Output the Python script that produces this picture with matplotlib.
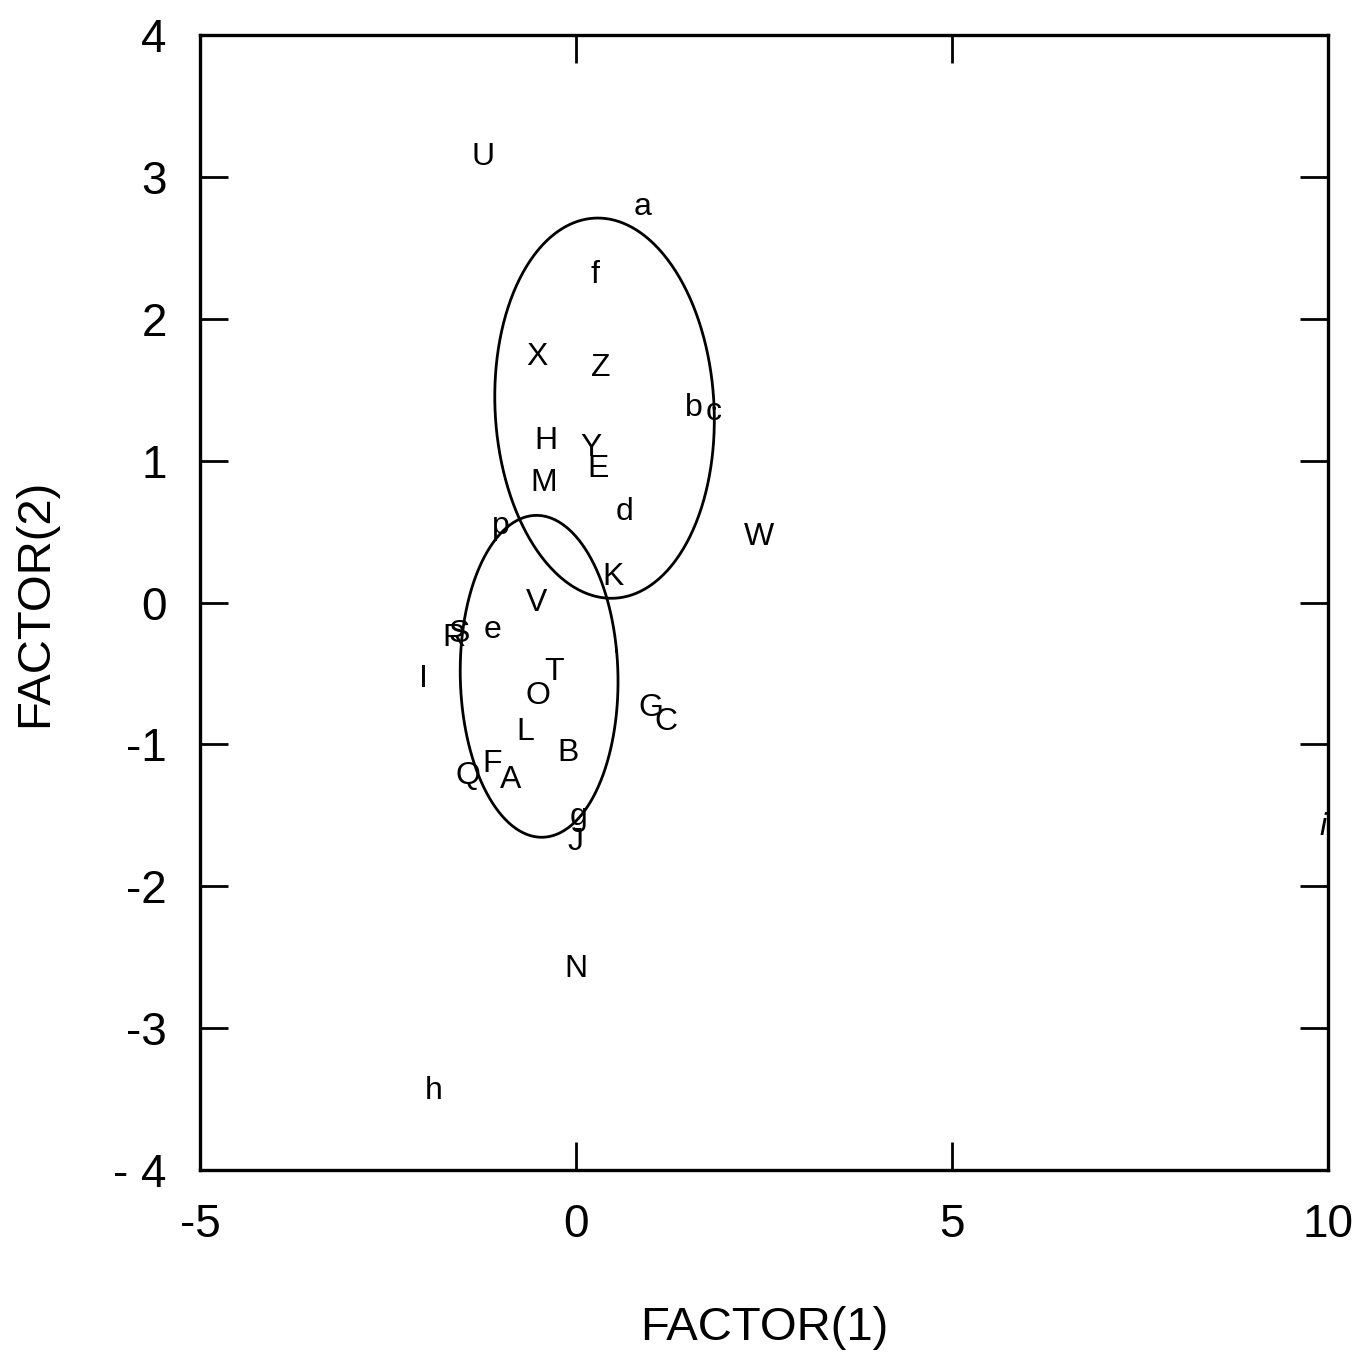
import matplotlib
matplotlib.use('Agg')
import matplotlib.pyplot as plt
import numpy as np

# case labels and factor scores
labels = ['U', 'a', 'f', 'X', 'Z', 'b', 'c', 'H', 'Y', 'E', 'M', 'd', 'W', 'p',
          'K', 'V', 'e', 'R', 'S', 'I', 'T', 'O', 'G', 'C', 'L', 'B', 'Q', 'F',
          'A', 'g', 'J', 'N', 'h', 'i']
f1 = [-1.23, 0.89, 0.25, -0.52, 0.33, 1.57, 1.83, -0.40, 0.20, 0.29, -0.43, 0.64,
      2.43, -1.00, 0.49, -0.53, -1.11, -1.62, -1.55, -2.03, -0.29, -0.51, 1.00,
      1.20, -0.68, -0.11, -1.43, -1.11, -0.87, 0.03, 0.00, 0.00, -1.89, 9.93]
f2 = [3.14, 2.79, 2.31, 1.73, 1.65, 1.37, 1.34, 1.14, 1.09, 0.94, 0.84, 0.64,
      0.46, 0.54, 0.18, 0.00, -0.19, -0.25, -0.22, -0.54, -0.49, -0.66, -0.74,
      -0.84, -0.91, -1.06, -1.22, -1.14, -1.25, -1.51, -1.69, -2.58, -3.44, -1.58]

# ellipses: centre x, centre y, x half-width, x shear, y tilt, y half-height
ell_big = (0.38, 1.37, 1.457, -0.09, 0.0, 1.34)
ell_small = (-0.49, -0.52, 1.03, -0.20, 0.18, 1.12)

xticks = [-5, 0, 5, 10]
yticks = [-4, -3, -2, -1, 0, 1, 2, 3, 4]
ytick_labels = ['- 4', '-3', '-2', '-1', '0', '1', '2', '3', '4']

plt.rcParams['font.family'] = ['Liberation Sans', 'DejaVu Sans']
plt.rcParams['axes.unicode_minus'] = False

fig = plt.figure(figsize=(13.64, 13.58), dpi=100)
ax = fig.add_axes([0.1466, 0.1384, 0.827, 0.8358])

t = np.linspace(0, 2 * np.pi, 400)
for cx, cy, a, s, r, b in (ell_big, ell_small):
    ax.plot(cx + a * np.cos(t) + s * np.sin(t), cy + r * np.cos(t) + b * np.sin(t),
            color='black', lw=2.0)

for lab, x, y in zip(labels, f1, f2):
    style = 'italic' if lab == 'i' else 'normal'
    ax.text(x, y, lab, fontsize=23, ha='center', va='center', style=style)

ax.set_xlim(-5, 10)
ax.set_ylim(-4, 4)
ax.set_xticks(xticks)
ax.set_xticklabels([str(v) for v in xticks])
ax.set_yticks(yticks)
ax.set_yticklabels(ytick_labels)
ax.tick_params(direction='in', length=20, width=2, top=True, right=True,
               labelsize=33, pad=24)
for sp in ax.spines.values():
    sp.set_linewidth(2.4)

ax.set_xlabel('FACTOR(1)', fontsize=34, labelpad=42)
ax.set_ylabel('FACTOR(2)', fontsize=34, labelpad=40)

plt.savefig('out.png', dpi=100)
